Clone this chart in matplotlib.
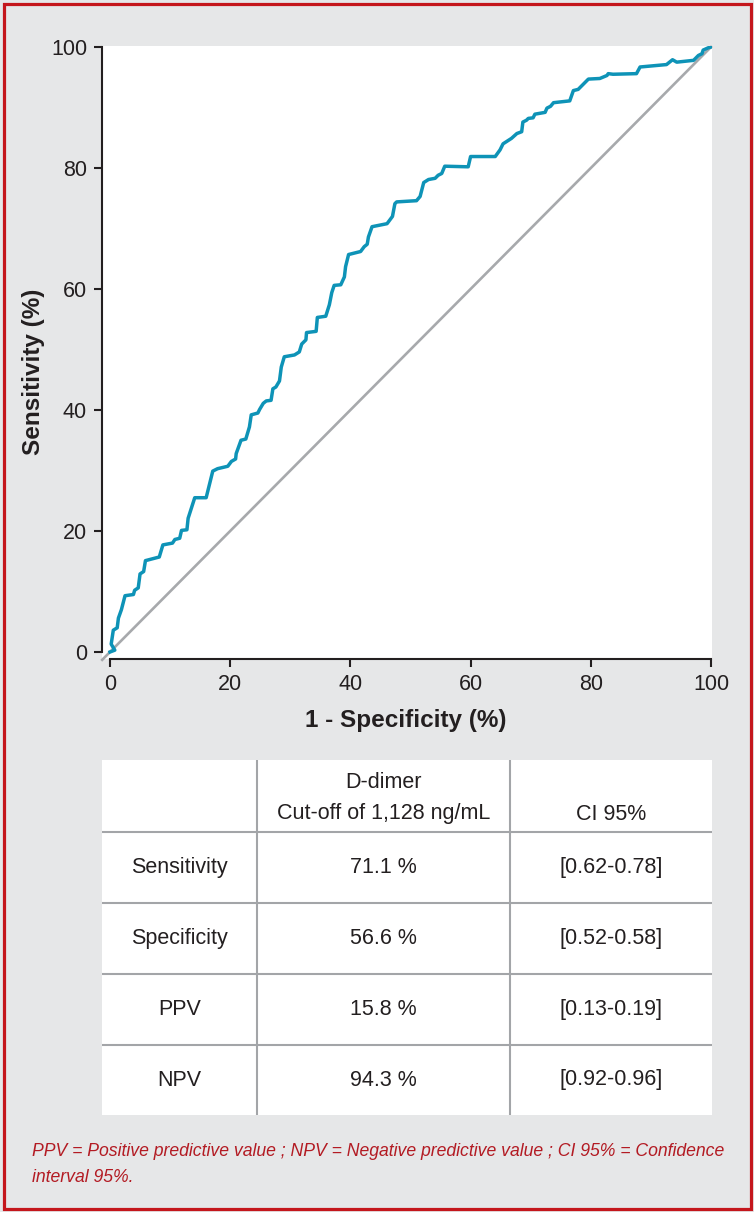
import matplotlib
matplotlib.use("Agg")
import matplotlib.pyplot as plt
from matplotlib import font_manager
from matplotlib.patches import Rectangle

# ROC curve (1 - specificity, sensitivity), in %
fpr = [0.0, 0.8, 0.2, 0.55, 1.2, 1.4, 1.9, 2.5, 3.9, 4.1, 4.7, 5.0, 5.6, 5.9, 8.2,
       8.8, 10.4, 10.8, 11.6, 11.9, 12.8, 13.0, 14.1, 16.0, 16.5, 17.1, 17.9, 19.6,
       20.2, 20.9, 21.0, 21.8, 22.6, 23.2, 23.5, 24.6, 24.9, 25.5, 26.0, 26.8, 27.1,
       27.6, 28.2, 28.5, 29.0, 30.7, 31.5, 31.9, 32.6, 32.7, 34.3, 34.5, 35.9, 36.5,
       36.9, 37.3, 38.4, 39.0, 39.2, 39.7, 41.7, 42.3, 42.8, 43.0, 43.6, 46.1, 47.0,
       47.4, 47.7, 51.0, 51.6, 52.2, 53.0, 54.1, 54.6, 55.2, 55.7, 59.6, 60.0, 64.1,
       64.9, 65.4, 66.8, 67.7, 68.5, 68.7, 69.3, 69.6, 70.4, 70.7, 72.4, 72.7, 73.3,
       73.8, 76.5, 77.1, 77.9, 79.6, 81.5, 82.7, 82.9, 83.7, 87.6, 88.2, 92.6, 93.6,
       94.3, 97.1, 97.9, 98.5, 98.7, 99.6, 100.0]
tpr = [0.0, 0.3, 1.3, 3.6, 4.0, 5.6, 7.0, 9.3, 9.5, 10.2, 10.6, 12.9, 13.3, 15.1, 15.7,
       17.7, 18.0, 18.6, 18.8, 20.1, 20.2, 22.1, 25.5, 25.5, 27.5, 29.9, 30.3, 30.7,
       31.5, 31.9, 32.8, 35.0, 35.2, 37.2, 39.2, 39.5, 40.1, 41.1, 41.5, 41.6, 43.5,
       43.8, 44.8, 47.1, 48.8, 49.1, 49.6, 50.9, 51.6, 52.8, 53.0, 55.3, 55.5, 57.4,
       59.4, 60.6, 60.7, 62.0, 63.7, 65.7, 66.2, 67.0, 67.4, 68.6, 70.3, 70.8, 72.0,
       74.1, 74.4, 74.6, 75.3, 77.6, 78.1, 78.3, 78.8, 79.1, 80.3, 80.2, 81.9, 81.9,
       83.0, 84.0, 84.9, 85.7, 86.0, 87.6, 87.9, 88.2, 88.3, 88.9, 89.2, 89.9, 90.2,
       90.8, 91.1, 92.8, 93.0, 94.7, 94.8, 95.3, 95.6, 95.5, 95.6, 96.7, 97.1, 97.9,
       97.5, 97.8, 98.6, 98.9, 99.5, 99.9, 100.0]

ticks = [0, 20, 40, 60, 80, 100]

# table content
col_header_1 = ["D-dimer", "Cut-off of 1,128 ng/mL"]
col_header_2 = "CI 95%"
row_names = ["Sensitivity", "Specificity", "PPV", "NPV"]
cutoff_values = ["71.1 %", "56.6 %", "15.8 %", "94.3 %"]
ci_values = ["[0.62-0.78]", "[0.52-0.58]", "[0.13-0.19]", "[0.92-0.96]"]

footnote = ["PPV = Positive predictive value ; NPV = Negative predictive value ; CI 95% = Confidence",
            "interval 95%."]

BG = "#e6e7e8"
RED = "#c4161c"
INK = "#231f20"
CURVE = "#0e93b7"
DIAG = "#a7a9ac"
GRID = "#a3a5a8"


def has_font(name):
    try:
        font_manager.findfont(name, fallback_to_default=False)
        return True
    except ValueError:
        return False


if has_font("Liberation Sans Narrow"):
    narrow, tick_fs, label_fs = "Liberation Sans Narrow", 17, 19.5
else:
    narrow, tick_fs, label_fs = "Liberation Sans", 15.5, 17.5
plain = "Liberation Sans"

W, H = 754, 1212
fig = plt.figure(figsize=(W / 100, H / 100), dpi=100, facecolor=BG)

# red frame around the whole figure
fig.patches.append(Rectangle((3.5 / W, 3.5 / H), (W - 7) / W, (H - 7) / H,
                             transform=fig.transFigure, fill=False,
                             edgecolor=RED, linewidth=2.3))

# --- ROC plot ---
ax = fig.add_axes([101.7 / W, (H - 659) / H, 610.5 / W, 613 / H])
ax.set_facecolor("white")
ax.plot([-1.3, 100], [-1.3, 100], color=DIAG, lw=1.9, zorder=1, clip_on=False)
ax.plot(fpr, tpr, color=CURVE, lw=2.5, zorder=2, solid_joinstyle="round")
ax.set_xlim(-1.38, 100.2)
ax.set_ylim(-1.16, 100.17)

for s in ["top", "right"]:
    ax.spines[s].set_visible(False)
for s in ["left", "bottom"]:
    ax.spines[s].set_linewidth(1.5)
    ax.spines[s].set_color(INK)
ax.spines["left"].set_bounds(0, 100)
ax.spines["bottom"].set_bounds(0, 100)

ax.set_xticks(ticks)
ax.set_yticks(ticks)
ax.tick_params(direction="out", length=5.5, width=1.5, color=INK,
               labelsize=tick_fs, labelcolor=INK)
ax.tick_params(axis="y", pad=5)
ax.tick_params(axis="x", pad=5)
for lab in ax.get_xticklabels() + ax.get_yticklabels():
    lab.set_fontfamily(narrow)

ax.set_xlabel("1 - Specificity (%)", fontsize=label_fs, fontweight="bold",
              fontfamily=narrow, color=INK, va="center")
ax.set_ylabel("Sensitivity (%)", fontsize=label_fs, fontweight="bold",
              fontfamily=narrow, color=INK, va="center")
ax.xaxis.set_label_coords((406 - 101.7) / 610.5, -(720 - 659) / 613)
ax.yaxis.set_label_coords((33.5 - 101.7) / 610.5, (659 - 372) / 613)

# --- table ---
tab_w, tab_h = 610, 355
tax = fig.add_axes([102 / W, (H - 1115) / H, tab_w / W, tab_h / H])
tax.set_xlim(0, tab_w)
tax.set_ylim(tab_h, 0)
tax.axis("off")
tax.add_patch(Rectangle((0, 0), tab_w, tab_h, facecolor="white", edgecolor="none", zorder=0))

col_edges = [0, 155, 408, 610]
row_edges = [0, 72, 143, 214, 285, 355]
for y in row_edges[1:-1]:
    tax.plot([0, tab_w], [y, y], color=GRID, lw=1.5, zorder=1)
for x in col_edges[1:-1]:
    tax.plot([x, x], [0, tab_h], color=GRID, lw=1.5, zorder=1)

col_mid = [(a + b) / 2 for a, b in zip(col_edges[:-1], col_edges[1:])]
txt = dict(fontsize=15.5, fontfamily=plain, color=INK, ha="center", va="center")
tax.text(col_mid[1], 23, col_header_1[0], **txt)
tax.text(col_mid[1], 54, col_header_1[1], **txt)
tax.text(col_mid[2], 54, col_header_2, **txt)
for i, (name, val, ci) in enumerate(zip(row_names, cutoff_values, ci_values)):
    ym = (row_edges[i + 1] + row_edges[i + 2]) / 2
    tax.text(col_mid[0], ym, name, **txt)
    tax.text(col_mid[1], ym, val, **txt)
    tax.text(col_mid[2], ym, ci, **txt)

# --- footnote ---
fig.text(31.7 / W, 1 - 1156 / H, footnote[0], fontsize=12.7, style="italic",
         fontfamily=plain, color="#b31b23", va="baseline", ha="left")
fig.text(31.7 / W, 1 - 1182 / H, footnote[1], fontsize=12.7, style="italic",
         fontfamily=plain, color="#b31b23", va="baseline", ha="left")

fig.savefig("out.png", dpi=100, facecolor=BG)
